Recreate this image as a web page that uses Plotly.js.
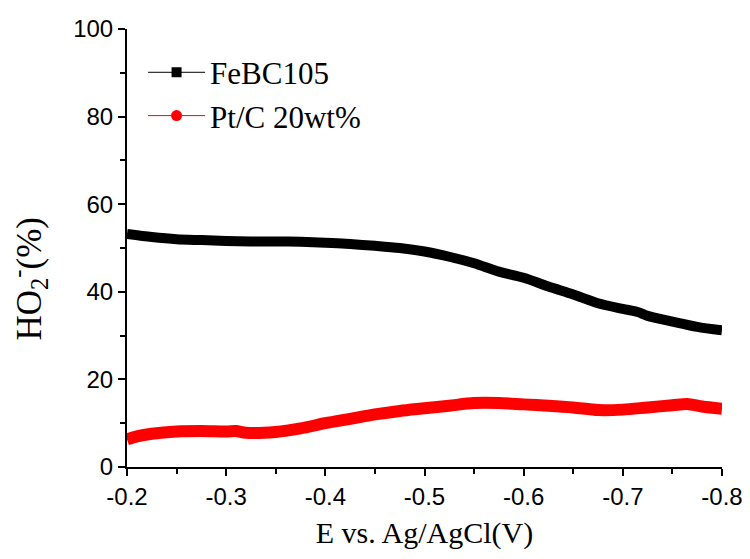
<!DOCTYPE html>
<html>
<head>
<meta charset="utf-8">
<script src="https://cdn.plot.ly/plotly-3.0.1.min.js"></script>
<style>html,body{margin:0;padding:0;background:#fff;}#chart{width:750px;height:559px;}</style>
</head>
<body>
<div id="chart"></div>
<script>
const feX = [-0.20,-0.225,-0.25,-0.275,-0.30,-0.325,-0.35,-0.375,-0.40,-0.425,-0.45,-0.475,-0.50,-0.525,-0.55,-0.575,-0.60,-0.625,-0.65,-0.675,-0.70,-0.715,-0.725,-0.75,-0.775,-0.80];
const feY = [53.2,52.5,52.0,51.8,51.6,51.5,51.5,51.4,51.2,50.9,50.5,50.0,49.2,48.0,46.5,44.6,43.2,41.2,39.4,37.4,36.1,35.4,34.5,33.2,32.0,31.2];
const ptX = [-0.20,-0.21,-0.225,-0.25,-0.275,-0.30,-0.31,-0.32,-0.35,-0.375,-0.40,-0.425,-0.45,-0.475,-0.50,-0.525,-0.55,-0.575,-0.60,-0.625,-0.65,-0.675,-0.70,-0.725,-0.75,-0.765,-0.78,-0.80];
const ptY = [6.3,7.0,7.6,8.1,8.2,8.1,8.2,7.8,8.0,8.8,10.0,11.0,12.0,12.8,13.4,14.0,14.6,14.6,14.3,14.0,13.6,13.0,13.1,13.6,14.1,14.4,13.8,13.3];
const names = ['FeBC105', 'Pt/C 20wt%'];
const xTickVals = [-0.2,-0.3,-0.4,-0.5,-0.6,-0.7,-0.8];
const xTickText = ['-0.2','-0.3','-0.4','-0.5','-0.6','-0.7','-0.8'];
const yTickVals = [0,20,40,60,80,100];
const yTitle = 'HO<sub>2</sub><sup>-</sup>(%)';
const xTitle = 'E vs. Ag/AgCl(V)';

const traces = [
  {x: feX, y: feY, mode: 'lines', line: {color: '#000000', width: 10, shape: 'spline', smoothing: 0.8}, showlegend: false, hoverinfo: 'skip'},
  {x: ptX, y: ptY, mode: 'lines', line: {color: '#ff0000', width: 12, shape: 'spline', smoothing: 0.8}, showlegend: false, hoverinfo: 'skip'},
  {x: [null], y: [null], name: names[0], mode: 'lines+markers', line: {color: '#000000', width: 1}, marker: {symbol: 'square', size: 10, color: '#000000'}},
  {x: [null], y: [null], name: names[1], mode: 'lines+markers', line: {color: '#ff0000', width: 1}, marker: {symbol: 'circle', size: 11, color: '#ff0000'}}
];

const axisCommon = {
  showline: true, linecolor: '#000', linewidth: 2, mirror: false,
  ticks: 'outside', ticklen: 7, tickwidth: 2, tickcolor: '#000',
  showgrid: false, zeroline: false,
  tickfont: {family: 'Liberation Sans, Arial, sans-serif', size: 24, color: '#000'}
};

const layout = {
  width: 750, height: 559,
  margin: {l: 127, r: 28, t: 29, b: 92},
  paper_bgcolor: '#fff', plot_bgcolor: '#fff',
  xaxis: Object.assign({}, axisCommon, {
    range: [-0.2, -0.8], tickvals: xTickVals, ticktext: xTickText,
    minor: {ticks: 'outside', ticklen: 5, tickwidth: 2, tickcolor: '#000', dtick: 0.05, tick0: 0, showgrid: false},
    title: {text: xTitle, font: {family: 'Liberation Serif, Times New Roman, serif', size: 30, color: '#000'}, standoff: 13}
  }),
  yaxis: Object.assign({}, axisCommon, {
    range: [0, 100], tickvals: yTickVals,
    minor: {ticks: 'outside', ticklen: 5, tickwidth: 2, tickcolor: '#000', dtick: 10, tick0: 0, showgrid: false}
  }),
  annotations: [{
    text: yTitle, xref: 'paper', yref: 'paper', x: -0.165, y: 0.43,
    xanchor: 'center', yanchor: 'middle', textangle: -90, showarrow: false,
    font: {family: 'Liberation Serif, Times New Roman, serif', size: 35, color: '#000'}
  }],
  legend: {
    x: 0.027, y: 0.962, xanchor: 'left', yanchor: 'top',
    bgcolor: 'rgba(0,0,0,0)', borderwidth: 0, itemwidth: 57,
    font: {family: 'Liberation Serif, Times New Roman, serif', size: 31, color: '#000'},
    tracegroupgap: 0
  },
  showlegend: true
};

Plotly.newPlot('chart', traces, layout, {displayModeBar: false, staticPlot: true});
</script>
</body>
</html>
